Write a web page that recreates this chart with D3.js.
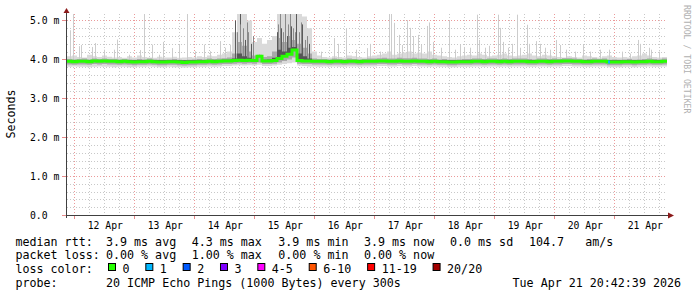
<!DOCTYPE html>
<html>
<head>
<meta charset="utf-8">
<title>Smokeping median rtt</title>
<script src="https://cdn.jsdelivr.net/npm/d3@7"></script>
<style>
body { margin: 0; background: #fff; }
text { font-family: "DejaVu Sans Mono", monospace; }
</style>
</head>
<body>
<div id="chart"></div>
<script>

// one value per 2 hour bin, 120 bins = 10 days (ms)
var median = [
  3.95,3.94,3.95,3.95,3.94,3.96,3.95,3.96,3.95,3.95,
  3.94,3.95,3.94,3.93,3.94,3.94,3.95,3.94,3.93,3.93,
  3.94,3.94,3.93,3.92,3.93,3.93,3.94,3.94,3.95,3.94,
  3.95,3.96,3.96,3.97,3.98,3.97,3.98,3.97,4.08,3.96,
  3.96,3.97,4.02,4.08,4.13,4.24,3.97,3.96,3.96,3.95,
  3.95,3.95,3.94,3.95,3.95,3.94,3.95,3.95,3.94,3.95,
  3.95,3.95,3.96,3.96,3.95,3.95,3.96,3.95,3.95,3.96,
  3.95,3.95,3.94,3.95,3.94,3.94,3.93,3.93,3.94,3.94,
  3.94,3.95,3.95,3.94,3.95,3.95,3.94,3.95,3.94,3.95,
  3.95,3.95,3.94,3.94,3.95,3.95,3.94,3.95,3.95,3.96,
  3.96,3.95,3.95,3.94,3.94,3.95,3.95,3.95,3.93,3.93,
  3.93,3.94,3.94,3.93,3.94,3.94,3.95,3.94,3.94,3.95];

// smoke: lowest pings
var loLight = [
  3.81,3.82,3.81,3.81,3.80,3.81,3.82,3.81,3.81,3.80,
  3.81,3.81,3.80,3.80,3.81,3.81,3.82,3.81,3.80,3.80,
  3.81,3.80,3.80,3.79,3.80,3.80,3.81,3.81,3.82,3.81,
  3.82,3.83,3.83,3.84,3.85,3.84,3.85,3.84,3.86,3.83,
  3.83,3.84,3.86,3.88,3.90,3.92,3.84,3.83,3.82,3.82,
  3.81,3.82,3.81,3.82,3.81,3.81,3.82,3.82,3.81,3.82,
  3.82,3.82,3.83,3.83,3.82,3.82,3.83,3.82,3.82,3.83,
  3.82,3.82,3.81,3.82,3.81,3.81,3.80,3.80,3.81,3.81,
  3.81,3.82,3.82,3.81,3.82,3.82,3.81,3.82,3.81,3.82,
  3.82,3.82,3.81,3.81,3.82,3.82,3.81,3.82,3.82,3.83,
  3.83,3.82,3.82,3.81,3.81,3.82,3.82,3.82,3.80,3.80,
  3.80,3.81,3.81,3.80,3.81,3.81,3.82,3.81,3.81,3.82];

var loMid = [
  3.87,3.86,3.87,3.87,3.86,3.88,3.87,3.88,3.87,3.87,
  3.86,3.87,3.86,3.85,3.86,3.86,3.87,3.86,3.85,3.85,
  3.86,3.86,3.85,3.84,3.85,3.85,3.86,3.86,3.87,3.86,
  3.87,3.88,3.88,3.89,3.90,3.89,3.90,3.89,3.92,3.88,
  3.88,3.89,3.92,3.96,4.00,4.05,3.89,3.88,3.88,3.87,
  3.87,3.87,3.86,3.87,3.87,3.86,3.87,3.87,3.86,3.87,
  3.87,3.87,3.88,3.88,3.87,3.87,3.88,3.87,3.87,3.88,
  3.87,3.87,3.86,3.87,3.86,3.86,3.85,3.85,3.86,3.86,
  3.86,3.87,3.87,3.86,3.87,3.87,3.86,3.87,3.86,3.87,
  3.87,3.87,3.86,3.86,3.87,3.87,3.86,3.87,3.87,3.88,
  3.88,3.87,3.87,3.86,3.86,3.87,3.87,3.87,3.85,3.85,
  3.85,3.86,3.86,3.85,3.86,3.86,3.87,3.86,3.86,3.87];

// smoke: highest pings (light), upper quarter (mid), near median (dark)
var hiLight = [
  4.08,4.10,4.06,4.05,4.12,4.08,4.06,4.10,4.07,4.05,
  4.06,4.04,4.08,4.05,4.10,4.06,4.05,4.04,4.07,4.05,
  4.05,4.07,4.04,4.05,4.06,4.05,4.08,4.06,4.10,4.08,
  4.12,4.15,4.20,4.70,5.19,5.19,5.00,4.45,4.55,4.40,
  4.50,4.60,5.19,5.19,5.19,5.19,5.19,5.10,4.80,4.20,
  4.10,4.06,4.05,4.08,4.06,4.05,4.10,4.08,4.06,4.05,
  4.08,4.10,4.12,4.15,4.20,4.12,4.15,4.18,4.20,4.15,
  4.18,4.15,4.20,4.12,4.10,4.08,4.06,4.05,4.08,4.10,
  4.12,4.10,4.15,4.12,4.08,4.10,4.12,4.15,4.10,4.08,
  4.10,4.12,4.15,4.10,4.08,4.12,4.10,4.08,4.06,4.05,
  4.08,4.06,4.05,4.10,4.08,4.06,4.05,4.08,4.10,4.06,
  4.05,4.06,4.05,4.08,4.10,4.15,4.10,4.06,4.05,4.06];

var hiMid = [
  4.01,4.00,4.01,4.02,4.00,4.02,4.01,4.02,4.01,4.01,
  4.00,4.01,4.00,3.99,4.01,4.00,4.02,4.00,3.99,3.99,
  4.00,4.01,3.99,3.98,3.99,4.00,4.01,4.00,4.02,4.01,
  4.02,4.03,4.05,4.15,4.45,4.35,4.20,4.10,4.12,4.06,
  4.08,4.20,4.55,4.45,4.60,4.50,4.40,4.30,4.15,4.02,
  4.01,4.01,4.00,4.02,4.01,4.00,4.02,4.01,4.00,4.01,
  4.02,4.02,4.03,4.04,4.02,4.02,4.04,4.03,4.03,4.04,
  4.02,4.02,4.01,4.02,4.00,4.01,3.99,3.99,4.00,4.01,
  4.01,4.02,4.02,4.01,4.02,4.02,4.01,4.02,4.01,4.02,
  4.02,4.02,4.01,4.00,4.02,4.02,4.01,4.02,4.01,4.03,
  4.03,4.02,4.01,4.00,4.01,4.02,4.01,4.02,3.99,4.00,
  3.99,4.00,4.01,3.99,4.00,4.01,4.02,4.01,4.00,4.02];

var hiDark = [
  3.98,3.98,3.98,3.98,3.98,3.98,3.98,3.98,3.98,3.98,
  3.98,3.98,3.98,3.98,3.98,3.98,3.98,3.98,3.98,3.98,
  3.98,3.98,3.98,3.98,3.98,3.98,3.98,3.98,3.98,3.98,
  3.98,3.99,3.99,4.02,4.15,4.08,4.04,4.00,4.08,3.99,
  4.00,4.04,4.25,4.20,4.30,4.32,4.15,4.08,4.02,3.98,
  3.98,3.98,3.98,3.98,3.98,3.98,3.98,3.98,3.98,3.98,
  3.98,3.98,3.98,3.98,3.98,3.98,3.98,3.98,3.98,3.98,
  3.98,3.98,3.98,3.98,3.98,3.98,3.98,3.98,3.98,3.98,
  3.98,3.98,3.98,3.98,3.98,3.98,3.98,3.98,3.98,3.98,
  3.98,3.98,3.98,3.98,3.98,3.98,3.98,3.98,3.98,3.98,
  3.98,3.98,3.98,3.98,3.98,3.98,3.98,3.98,3.98,3.98,
  3.98,3.98,3.98,3.98,3.98,3.98,3.98,3.98,3.98,3.98];

// single slow pings (hours after start, ms)
var spikeHour = [1.2,2.5,4.8,5.6,10.0,11.5,14.8,18.8,20.0,24.8,29.2,30.8,34.0,36.8,38.4,42.0,44.8,48.0,51.5,54.8,57.5,61.2,63.2,65.5,
  102.0,106.8,108.4,111.6,115.6,120.0,121.2,125.2,128.8,129.6,130.8,132.8,134.0,136.0,137.2,138.4,140.4,141.6,144.0,145.2,146.4,149.6,152.8,155.2,157.2,158.8,
  161.2,164.3,164.8,167.2,169.2,172.7,173.2,174.4,176.4,178.0,180.3,181.2,184.0,185.2,187.6,189.2,191.2,193.2,195.6,197.2,199.6,203.2,206.4,209.2,213.2,216.8,
  222.0,225.2,228.4,229.2,232.8,234.0,237.2];
var spikeMs = [4.75,5.19,4.34,4.37,4.32,4.42,4.25,4.25,4.51,4.12,4.24,5.19,4.38,4.12,4.45,4.29,4.38,5.19,4.21,4.38,4.21,4.47,4.30,4.38,
  4.20,4.55,4.40,4.80,4.25,4.29,4.40,4.20,5.19,5.19,4.94,4.63,4.37,5.01,4.81,4.60,4.63,4.37,4.86,4.95,4.45,4.30,4.99,4.25,4.37,4.32,
  4.30,5.15,4.50,4.30,4.35,5.15,4.81,4.45,4.30,4.40,5.15,4.30,4.89,4.40,4.47,4.40,4.30,4.25,4.50,4.37,4.25,4.20,4.37,4.20,4.25,4.25,
  4.20,4.15,4.50,4.40,4.30,4.25,4.20];

// darker streaks inside the busy period on 14/15 Apr (hours after start, ms)
var streakHour = [67.6,68.0,68.4,69.2,69.6,70.4,71.2,72.0,72.4,73.6,74.4,76.8,
  84.0,84.4,85.2,85.6,86.4,87.2,88.0,88.4,89.2,89.6,90.4,91.2,91.6,92.8,93.6,94.0,95.2,96.0,96.8];
var streakMs = [5.00,4.70,4.60,5.19,4.90,4.80,4.50,4.95,4.70,4.40,4.60,4.12,
  4.70,4.90,5.19,4.80,4.70,5.19,4.60,4.90,5.19,4.85,4.80,4.70,5.19,4.70,4.95,4.90,4.50,4.60,4.40];

var lossBin = [108];
var lossCount = [1];

var yTicks = [0, 1, 2, 3, 4, 5];
var yTickLabels = ["0.0", "1.0 m", "2.0 m", "3.0 m", "4.0 m", "5.0 m"];

var lossLabels = ["0", "1", "2", "3", "4-5", "6-10", "11-19", "20/20"];
var lossColors = ["#26ff00", "#00b8ff", "#0059ff", "#7e00ff", "#ff00ff", "#ff5500", "#ff0000", "#a10000"];

var rttLegend = ["median rtt:", "3.9 ms avg", "4.3 ms max", "3.9 ms min", "3.9 ms now", "0.0 ms sd", "104.7   am/s"];
var lossLegend = ["packet loss:", "0.00 % avg", "1.00 % max", "0.00 % min", "0.00 % now"];
var probeLegend = ["probe:", "20 ICMP Echo Pings (1000 Bytes) every 300s"];
var stamp = "Tue Apr 21 20:42:39 2026";

var width = 697, height = 297;
var pLeft = 67, pRight = 667, pTop = 14, pBottom = 215;

var start = new Date(2026, 3, 11, 21, 5);
var end = d3.timeHour.offset(start, 240);
var binHours = 2;

var x = d3.scaleTime().domain([start, end]).range([pLeft, pRight]);
var y = d3.scaleLinear().domain([0, 5.167]).range([pBottom, pTop]);

var svg = d3.select("#chart").append("svg")
  .attr("width", width)
  .attr("height", height)
  .style("display", "block");

svg.append("defs").append("clipPath").attr("id", "plot")
  .append("rect").attr("x", pLeft).attr("y", pTop).attr("width", pRight - pLeft).attr("height", pBottom - pTop);

// grid
var minorY = y.ticks(25).filter(function(d) { return Math.abs(d - Math.round(d)) > 0.01; });
var minorX = d3.timeHour.every(6).range(start, end).filter(function(d) { return d.getHours() != 0; });
var majorX = d3.timeDay.range(start, end);

var grid = svg.append("g");
grid.selectAll(".gy").data(minorY).enter().append("line")
  .attr("x1", pLeft).attr("x2", pRight)
  .attr("y1", function(d) { return Math.round(y(d)) + 0.5; })
  .attr("y2", function(d) { return Math.round(y(d)) + 0.5; })
  .attr("stroke", "#c8c8c8").attr("stroke-dasharray", "1,2");
grid.selectAll(".gx").data(minorX).enter().append("line")
  .attr("y1", pTop).attr("y2", pBottom)
  .attr("x1", function(d) { return Math.round(x(d)) + 0.5; })
  .attr("x2", function(d) { return Math.round(x(d)) + 0.5; })
  .attr("stroke", "#c8c8c8").attr("stroke-dasharray", "1,2");
grid.selectAll(".my").data(yTicks.slice(1)).enter().append("line")
  .attr("x1", pLeft).attr("x2", pRight)
  .attr("y1", function(d) { return Math.round(y(d)) + 0.5; })
  .attr("y2", function(d) { return Math.round(y(d)) + 0.5; })
  .attr("stroke", "#eb9a9a").attr("stroke-dasharray", "1,2");
grid.selectAll(".mx").data(majorX).enter().append("line")
  .attr("y1", pTop).attr("y2", pBottom)
  .attr("x1", function(d) { return Math.round(x(d)) + 0.5; })
  .attr("x2", function(d) { return Math.round(x(d)) + 0.5; })
  .attr("stroke", "#eb9a9a").attr("stroke-dasharray", "1,2");

// bins
var bins = median.map(function(m, i) {
  return {t: d3.timeHour.offset(start, i * binHours), med: m, loL: loLight[i], loM: loMid[i],
          hiL: hiLight[i], hiM: hiMid[i], hiD: hiDark[i]};
});
bins.push(Object.assign({}, bins[bins.length - 1], {t: end}));

var plot = svg.append("g").attr("clip-path", "url(#plot)");

function hourX(h) { return Math.floor(x(d3.timeMinute.offset(start, h * 60))); }

function band(lo, hi, color) {
  plot.append("path").datum(bins)
    .attr("d", d3.area().curve(d3.curveStepAfter)
      .x(function(d) { return x(d.t); })
      .y0(function(d) { return y(d[lo]); })
      .y1(function(d) { return y(d[hi]); }))
    .attr("fill", color);
}
band("loL", "hiL", "#dadada");

// thin spikes
plot.selectAll(".spike").data(spikeHour).enter().append("rect")
  .attr("x", hourX)
  .attr("width", 1)
  .attr("y", function(d, i) { return y(spikeMs[i]); })
  .attr("height", function(d, i) { return y(median[Math.floor(d / binHours)]) - y(spikeMs[i]); })
  .attr("fill", "#cccccc");

band("loM", "hiM", "#a8a8a8");

plot.selectAll(".streak").data(streakHour).enter().append("rect")
  .attr("x", hourX)
  .attr("width", 1)
  .attr("y", function(d, i) { return y(streakMs[i]); })
  .attr("height", function(d, i) { return y(median[Math.floor(d / binHours)]) - y(streakMs[i]); })
  .attr("fill", function(d, i) { return i % 3 == 0 ? "#5a5a5a" : "#8a8a8a"; });

band("med", "hiD", "#555555");

// median line, coloured by loss
plot.append("path").datum(bins)
  .attr("d", d3.line().curve(d3.curveStepAfter)
    .x(function(d) { return x(d.t); })
    .y(function(d) { return y(d.med); }))
  .attr("fill", "none")
  .attr("stroke", lossColors[0])
  .attr("stroke-width", 3);

lossBin.forEach(function(b, i) {
  plot.append("line")
    .attr("x1", x(d3.timeHour.offset(start, b * binHours)) + 1)
    .attr("x2", x(d3.timeHour.offset(start, (b + 1) * binHours)) - 2)
    .attr("y1", y(median[b])).attr("y2", y(median[b]))
    .attr("stroke", lossColors[lossCount[i]])
    .attr("stroke-width", 3);
});

// axes
svg.append("line").attr("x1", pLeft - 4).attr("x2", pRight + 2).attr("y1", pBottom + 0.5).attr("y2", pBottom + 0.5)
  .attr("stroke", "#404040");
svg.append("line").attr("x1", pLeft - 0.5).attr("x2", pLeft - 0.5).attr("y1", pTop - 3).attr("y2", pBottom + 3)
  .attr("stroke", "#404040");
svg.append("path").attr("d", "M" + (pLeft - 3.5) + "," + (pTop - 1) + "L" + (pLeft + 2.5) + "," + (pTop - 1) + "L" + (pLeft - 0.5) + "," + (pTop - 6) + "Z")
  .attr("fill", "#8b1a1a");
svg.append("path").attr("d", "M" + (pRight + 1) + "," + (pBottom - 2.5) + "L" + (pRight + 1) + "," + (pBottom + 3.5) + "L" + (pRight + 7) + "," + (pBottom + 0.5) + "Z")
  .attr("fill", "#8b1a1a");

svg.selectAll(".tx").data(majorX).enter().append("line")
  .attr("x1", function(d) { return Math.round(x(d)) + 0.5; })
  .attr("x2", function(d) { return Math.round(x(d)) + 0.5; })
  .attr("y1", pBottom + 1).attr("y2", pBottom + 4)
  .attr("stroke", "#e88c8c");
svg.selectAll(".ty").data(yTicks).enter().append("line")
  .attr("x1", pLeft - 5).attr("x2", pLeft - 1)
  .attr("y1", function(d) { return Math.round(y(d)) + 0.5; })
  .attr("y2", function(d) { return Math.round(y(d)) + 0.5; })
  .attr("stroke", "#e88c8c");

// tick labels
svg.selectAll(".yl").data(yTicks).enter().append("text")
  .attr("x", 30)
  .attr("y", function(d) { return y(d) + 3.5; })
  .style("font-size", "9.75px")
  .text(function(d, i) { return yTickLabels[i]; });

var noons = d3.timeHour.range(start, end).filter(function(d) { return d.getHours() == 12; });
svg.selectAll(".xl").data(noons).enter().append("text")
  .attr("x", function(d) { return x(d) + 1; })
  .attr("y", 228.5)
  .attr("text-anchor", "middle")
  .style("font-size", "9.75px")
  .text(d3.timeFormat("%d %b"));

svg.append("text")
  .attr("transform", "translate(15,114) rotate(-90)")
  .attr("text-anchor", "middle")
  .style("font-size", "11.67px")
  .text("Seconds");

svg.append("text")
  .attr("transform", "translate(684,5) rotate(90)")
  .style("font-size", "8.2px")
  .attr("fill", "#b0b0b0")
  .text("RRDTOOL / TOBI OETIKER");

// legend
var cols = [15.5, 106, 191.7, 278.3, 364, 450, 529];
function legendLine(items, yy) {
  svg.selectAll(null).data(items).enter().append("text")
    .attr("x", function(d, i) { return cols[i]; })
    .attr("y", yy)
    .style("font-size", "11.67px")
    .style("white-space", "pre")
    .text(function(d) { return d; });
}
legendLine(rttLegend, 245.5);
legendLine(lossLegend, 259);
legendLine(probeLegend, 286.5);

svg.append("text").attr("x", 15.5).attr("y", 273).style("font-size", "11.67px").text("loss color:");
var bx = 108.5;
lossLabels.forEach(function(l, i) {
  svg.append("rect").attr("x", bx).attr("y", 263.5).attr("width", 7).attr("height", 7)
    .attr("fill", lossColors[i]).attr("stroke", "#000");
  svg.append("text").attr("x", bx + 14).attr("y", 273).style("font-size", "11.67px").text(l);
  bx += 30.3 + l.length * 7.03;
});

svg.append("text").attr("x", 681).attr("y", 286.5).attr("text-anchor", "end")
  .style("font-size", "11.67px").text(stamp);

</script>
</body>
</html>
